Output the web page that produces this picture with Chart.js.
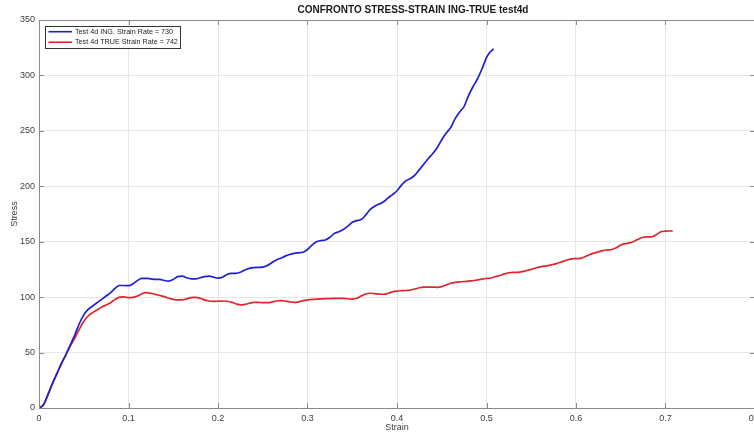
<!DOCTYPE html>
<html>
<head>
<meta charset="utf-8">
<title>CONFRONTO STRESS-STRAIN ING-TRUE test4d</title>
<script src="https://cdn.jsdelivr.net/npm/chart.js@4/dist/chart.umd.min.js"></script>
<style>
  html, body { margin: 0; padding: 0; background: #fff; overflow: hidden; }
  #wrap { position: absolute; left: 0; top: 0; width: 790px; height: 432px; }
</style>
</head>
<body>
<div id="wrap"><canvas id="chart" width="790" height="432"></canvas></div>
<script>
// Engineering curve (test 4d, strain rate 730)
const strainIng = [0.000,0.005,0.010,0.015,0.020,0.025,0.030,0.035,0.040,0.045,0.050,0.055,0.060,0.065,0.070,0.075,0.080,0.085,0.090,0.095,
  0.100,0.105,0.110,0.115,0.120,0.125,0.130,0.135,0.140,0.145,0.150,0.155,0.160,0.165,0.170,0.175,0.180,0.185,0.190,0.195,
  0.200,0.205,0.210,0.215,0.220,0.225,0.230,0.235,0.240,0.245,0.250,0.255,0.260,0.265,0.270,0.275,0.280,0.285,0.290,0.295,
  0.300,0.305,0.310,0.315,0.320,0.325,0.330,0.335,0.340,0.345,0.350,0.355,0.360,0.365,0.370,0.375,0.380,0.385,0.390,0.395,
  0.400,0.405,0.410,0.415,0.420,0.425,0.430,0.435,0.440,0.445,0.450,0.455,0.460,0.465,0.470,0.475,0.480,0.485,0.490,0.495,
  0.500,0.503,0.508];
const stressIng = [0,3,12,22,31,40,48,57,66,76,84,89,92,95,98,101,104,108,110.5,110.5,
  110.3,112,115,117,117,116.5,116,116,115,114.5,116,118.5,119,117.5,116.5,116.5,117.5,118.5,119,118,
  117.2,118,120.5,121.5,121.5,122.5,124.5,126,126.6,126.8,127,128.5,131,133.5,135,137,138.5,139.5,140,140.5,
  143,147,150,151,151.5,154,157.5,159,161,164,167.5,169,170,174,179,182,184,186,189.5,192.5,
  196,201,205,207,210,215,220,225,229.5,235,242,248,253,261,267,272,282,290,297,306,
  316,320,324];

// True curve (test 4d, strain rate 742)
const strainTrue = [0.000,0.005,0.010,0.015,0.020,0.025,0.030,0.035,0.040,0.045,0.050,0.055,0.060,0.065,0.070,0.075,0.080,0.085,0.090,0.095,
  0.100,0.105,0.110,0.115,0.120,0.125,0.130,0.135,0.140,0.145,0.150,0.155,0.160,0.165,0.170,0.175,0.180,0.185,0.190,0.195,
  0.200,0.205,0.210,0.215,0.220,0.225,0.230,0.235,0.240,0.245,0.250,0.255,0.260,0.265,0.270,0.275,0.280,0.285,0.290,0.295,
  0.300,0.305,0.310,0.320,0.330,0.340,0.350,0.355,0.360,0.365,0.370,0.375,0.380,0.385,0.390,0.395,
  0.400,0.405,0.410,0.415,0.420,0.425,0.430,0.440,0.445,0.450,0.455,0.460,0.465,0.470,0.480,0.485,0.490,0.495,
  0.500,0.505,0.510,0.515,0.520,0.525,0.530,0.535,0.540,0.545,0.550,0.555,0.560,0.565,0.570,0.575,0.580,0.585,0.590,0.595,
  0.600,0.605,0.610,0.615,0.620,0.625,0.630,0.635,0.640,0.645,0.650,0.655,0.660,0.665,0.670,0.675,0.680,0.685,0.690,0.695,
  0.700,0.708];
const stressTrue = [0,3,12,22,31,40,48,56,63,71,78,83,86,88.5,91,93,95,98,100,100.3,
  99.6,99.8,101,103,104,103.5,102.5,101.5,100.5,99,98,97.5,97.5,98.5,99.5,99.8,99,97.5,96.5,96.2,
  96.3,96.5,96.3,95.5,94,93,93.5,94.5,95.3,95.3,95,95,95.5,96.5,96.8,96.5,95.8,95.3,95.8,96.8,
  97.5,98,98.3,98.6,98.9,98.8,98.3,99,101,102.8,103.5,103.2,102.8,102.6,103.5,104.8,
  105.5,105.8,106,106.4,107.3,108.5,109,109,108.9,109.5,111,112.5,113.4,113.7,114.5,114.8,115.5,116.2,
  116.8,117.3,118.5,119.5,121,122,122.3,122.4,123,124,125,126.3,127.3,128,128.7,129.5,130.8,132,133.5,134.5,
  134.8,135,136.5,138.3,139.7,140.8,142,142.6,143,144.5,147,148.2,149,150.5,152.5,154,154.3,154.5,156.5,159,
  159.5,159.7];

const seriesLabels = ['Test 4d ING. Strain Rate = 730', 'Test 4d TRUE Strain Rate = 742'];
const chartTitle = 'CONFRONTO STRESS-STRAIN ING-TRUE test4d';
const xTicks = [0, 0.1, 0.2, 0.3, 0.4, 0.5, 0.6, 0.7, 0.8];
const yTicks = [0, 50, 100, 150, 200, 250, 300, 350];

const toPoints = (xs, ys) => xs.map((x, i) => ({ x: x, y: ys[i] }));

const FONT = "'Liberation Sans', Arial, Helvetica, sans-serif";
const AXIS_COLOR = '#8a8a8a';
const TEXT_COLOR = '#3c3c3c';

// Axes box with inward tick marks on all four sides
const boxPlugin = {
  id: 'boxPlugin',
  afterDatasetsDraw(chart) {
    const { ctx, chartArea: a, scales: { x, y } } = chart;
    const tl = 5;
    ctx.save();
    ctx.strokeStyle = AXIS_COLOR;
    ctx.lineWidth = 1;
    ctx.beginPath();
    ctx.rect(Math.round(a.left) + 0.5, Math.round(a.top) + 0.5,
             Math.round(a.right - a.left), Math.round(a.bottom - a.top));
    xTicks.forEach(v => {
      const px = Math.round(x.getPixelForValue(v)) + 0.5;
      ctx.moveTo(px, a.bottom); ctx.lineTo(px, a.bottom - tl);
      ctx.moveTo(px, a.top); ctx.lineTo(px, a.top + tl);
    });
    yTicks.forEach(v => {
      const py = Math.round(y.getPixelForValue(v)) + 0.5;
      ctx.moveTo(a.left, py); ctx.lineTo(a.left + tl, py);
      ctx.moveTo(a.right, py); ctx.lineTo(a.right - tl, py);
    });
    ctx.stroke();
    ctx.restore();
  }
};

// Title above the axes and boxed legend in the upper-left corner
const annotatePlugin = {
  id: 'annotatePlugin',
  afterDraw(chart) {
    const { ctx } = chart;
    ctx.save();
    ctx.fillStyle = '#1a1a1a';
    ctx.font = 'bold 10px ' + FONT;
    ctx.textAlign = 'center';
    ctx.textBaseline = 'middle';
    ctx.fillText(chartTitle, 413, 10);

    const bx = 45.5, by = 26.5, bw = 135, bh = 22;
    ctx.fillStyle = '#ffffff';
    ctx.fillRect(bx, by, bw, bh);
    ctx.strokeStyle = '#333333';
    ctx.lineWidth = 1;
    ctx.strokeRect(bx, by, bw, bh);
    ctx.font = '7.2px ' + FONT;
    ctx.textAlign = 'left';
    ctx.textBaseline = 'middle';
    chart.data.datasets.forEach((ds, i) => {
      const ly = 31.7 + i * 10.5;
      ctx.strokeStyle = ds.borderColor;
      ctx.lineWidth = 1.6;
      ctx.beginPath();
      ctx.moveTo(48.5, ly); ctx.lineTo(72, ly);
      ctx.stroke();
      ctx.fillStyle = '#222222';
      ctx.fillText(ds.label, 75, ly + 0.3);
    });
    ctx.restore();
  }
};

new Chart(document.getElementById('chart'), {
  type: 'line',
  data: {
    datasets: [
      { label: seriesLabels[0], data: toPoints(strainIng, stressIng),
        borderColor: '#1f1fd6', borderWidth: 1.7, pointRadius: 0, fill: false,
        cubicInterpolationMode: 'monotone' },
      { label: seriesLabels[1], data: toPoints(strainTrue, stressTrue),
        borderColor: '#e0262b', borderWidth: 1.7, pointRadius: 0, fill: false,
        cubicInterpolationMode: 'monotone' }
    ]
  },
  options: {
    responsive: false,
    animation: false,
    events: [],
    layout: { padding: { top: 20, right: 35, left: 0, bottom: 0 } },
    plugins: { legend: { display: false }, title: { display: false }, tooltip: { enabled: false } },
    scales: {
      x: {
        type: 'linear', min: 0, max: 0.8,
        afterBuildTicks(s) { s.ticks = xTicks.map(v => ({ value: v })); },
        afterFit(s) { s.height = 24; },
        grid: { color: '#e6e6e6', lineWidth: 1, drawTicks: false },
        border: { display: false },
        ticks: {
          autoSkip: false, maxRotation: 0, padding: 5, color: TEXT_COLOR,
          font: { family: FONT, size: 9 },
          callback: v => String(Number(v.toFixed(1)))
        },
        title: { display: true, text: 'Strain', color: TEXT_COLOR,
                 font: { family: FONT, size: 9 }, padding: { top: 0, bottom: -0.5 } }
      },
      y: {
        type: 'linear', min: 0, max: 350,
        afterBuildTicks(s) { s.ticks = yTicks.map(v => ({ value: v })); },
        afterFit(s) { s.width = 39; },
        grid: { color: '#e6e6e6', lineWidth: 1, drawTicks: false },
        border: { display: false },
        ticks: {
          autoSkip: false, padding: 4, color: TEXT_COLOR,
          font: { family: FONT, size: 9 }
        },
        title: { display: true, text: 'Stress', color: TEXT_COLOR,
                 font: { family: FONT, size: 9 }, padding: { top: 9, bottom: 0 } }
      }
    }
  },
  plugins: [boxPlugin, annotatePlugin]
});
</script>
</body>
</html>
